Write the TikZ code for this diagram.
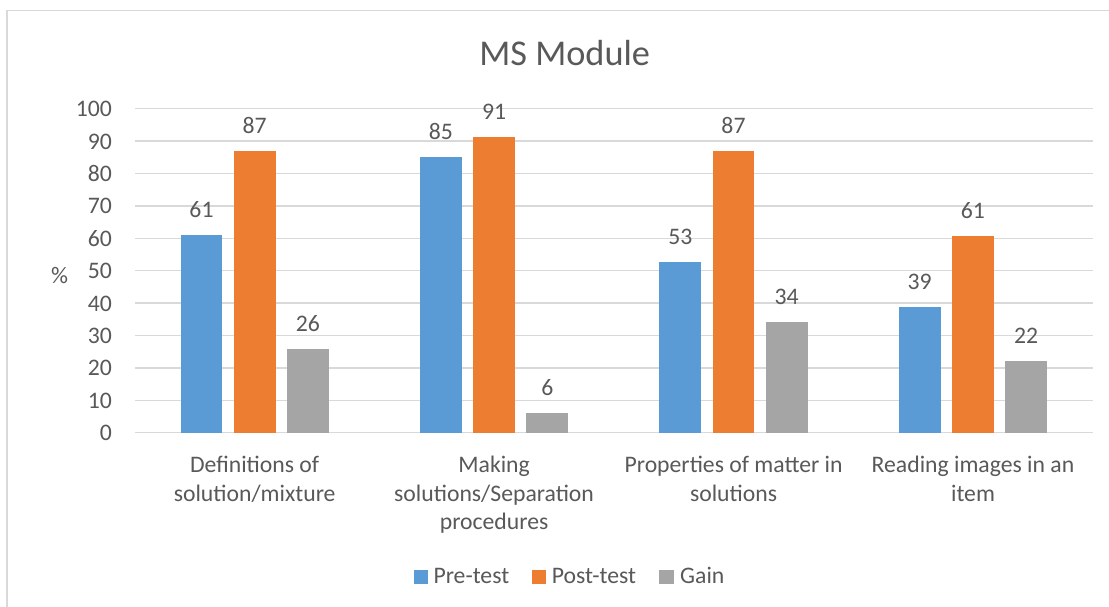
\documentclass[tikz,border=0pt]{standalone}
\usepackage{fontspec}
\setmainfont{Carlito}
\definecolor{cblue}{HTML}{5B9BD5}
\definecolor{corange}{HTML}{ED7D31}
\definecolor{cgray}{HTML}{A5A5A5}
\definecolor{ctext}{HTML}{595959}
\definecolor{cgrid}{HTML}{D9D9D9}
\begin{document}
\begin{tikzpicture}[x=1pt,y=-1pt,
  lbl/.style={inner sep=0pt, text=ctext, font=\fontsize{23.7}{28.7}\selectfont},
  ttl/.style={inner sep=0pt, text=ctext, font=\fontsize{36.3}{40}\selectfont},
  gridln/.style={cgrid, line width=1.5pt},
  frameln/.style={cgrid, line width=1.5pt}]
\useasboundingbox (0,0) rectangle (1109,607);
\fill[white] (0,0) rectangle (1109,607);
\draw[frameln] (7,607) -- (7,10.5) -- (1109,10.5);
% title
\node[ttl, anchor=base] (title) at (564.7,66) {MS Module};
% grid and y labels
\foreach \v in {0,10,...,100} {
  \draw[gridln] (135,{432.7-3.24*\v}) -- (1092.7,{432.7-3.24*\v});
  \node[lbl, anchor=base east] (y\v) at (112,{432.7-3.24*\v+8}) {\v};
}
\node[lbl, anchor=base] (ylab) at (59.5,283.3) {\%};
% bars
\foreach \i/\a/\b/\c/\la/\lb/\lc in {1/61.1/86.9/25.7/61/87/26, 2/85.2/91.3/6.1/85/91/6, 3/52.7/86.9/34.1/53/87/34, 4/38.8/60.7/22.0/39/61/22} {
  \pgfmathsetmacro{\cx}{135+239.4*(\i-0.5)}
  \fill[cblue] ({\cx-53.2-20.85},432.7) rectangle ({\cx-53.2+20.85},{432.7-3.24*\a});
  \fill[corange] ({\cx-20.85},432.7) rectangle ({\cx+20.85},{432.7-3.24*\b});
  \fill[cgray] ({\cx+53.2-20.85},432.7) rectangle ({\cx+53.2+20.85},{432.7-3.24*\c});
  \node[lbl, anchor=base] (pa\i) at ({\cx-53.2},{432.7-3.24*\a-17.5}) {\la};
  \node[lbl, anchor=base] (pb\i) at ({\cx},{432.7-3.24*\b-17.5}) {\lb};
  \node[lbl, anchor=base] (pc\i) at ({\cx+53.2},{432.7-3.24*\c-17.5}) {\lc};
}
% category labels (base anchor = baseline of last line)
\node[lbl, anchor=base, align=center] (cat1) at (254.7,501.0) {Definitions of\\solution/mixture};
\node[lbl, anchor=base, align=center] (cat2) at (494.1,529.7) {Making\\solutions/Separation\\procedures};
\node[lbl, anchor=base, align=center] (cat3) at (733.6,501.0) {Properties of matter in\\solutions};
\node[lbl, anchor=base, align=center] (cat4) at (973.0,501.0) {Reading images in an\\item};
% legend
\fill[cblue] (414,570) rectangle (428.3,584.3);
\node[lbl, anchor=base west] (leg1) at (433.3,583.3) {Pre-test};
\fill[corange] (531.7,570) rectangle (546,584.3);
\node[lbl, anchor=base west] (leg2) at (551.7,583.3) {Post-test};
\fill[cgray] (659.3,570) rectangle (673.6,584.3);
\node[lbl, anchor=base west] (leg3) at (680,583.3) {Gain};
\end{tikzpicture}
\end{document}
